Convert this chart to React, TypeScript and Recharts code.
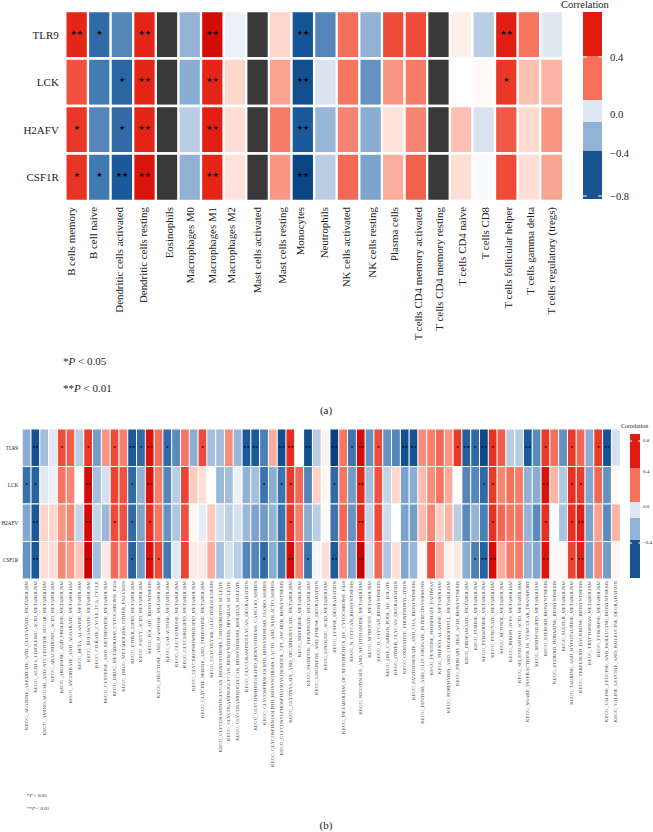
import { Bar, BarChart, Cell, LabelList, XAxis, YAxis } from "recharts";

const GENES = ["TLR9", "LCK", "H2AFV", "CSF1R"];

const IMMUNE_CELLS = [
	"B cells memory",
	"B cell naive",
	"Dendritic cells activated",
	"Dendritic cells resting",
	"Eosinophils",
	"Macrophages M0",
	"Macrophages M1",
	"Macrophages M2",
	"Mast cells activated",
	"Mast cells resting",
	"Monocytes",
	"Neutrophils",
	"NK cells activated",
	"NK cells resting",
	"Plasma cells",
	"T cells CD4 memory activated",
	"T cells CD4 memory resting",
	"T cells CD4 naive",
	"T cells CD8",
	"T cells follicular helper",
	"T cells gamma delta",
	"T cells regulatory (tregs)",
];

const IMMUNE_TLR9 = [0.62, -0.55, -0.42, 0.62, null, -0.27, 0.75, -0.03, null, 0.12, -0.68, -0.42, 0.4, -0.28, 0.5, 0.5, null, 0.06, -0.15, 0.65, 0.38, -0.05];
const IMMUNE_LCK = [0.48, -0.47, -0.58, 0.62, null, -0.3, 0.62, 0.12, null, 0.25, -0.72, -0.07, 0.38, -0.38, 0.28, 0.36, null, 0.0, 0.02, 0.56, 0.17, 0.2];
const IMMUNE_H2AFV = [0.56, -0.42, -0.55, 0.62, null, -0.15, 0.65, 0.1, null, 0.36, -0.65, -0.26, 0.33, -0.3, 0.09, 0.33, null, 0.17, -0.07, 0.46, 0.11, 0.28];
const IMMUNE_CSF1R = [0.57, -0.48, -0.65, 0.7, null, -0.28, 0.62, 0.09, null, 0.28, -0.78, -0.15, 0.42, -0.33, 0.22, 0.44, null, 0.1, -0.01, 0.5, 0.1, 0.24];

// [column (1-based), number of stars]
const IMMUNE_STARS_TLR9 = [[1, 2], [2, 1], [4, 2], [7, 2], [11, 2], [20, 2]];
const IMMUNE_STARS_LCK = [[3, 1], [4, 2], [7, 2], [11, 2], [20, 1]];
const IMMUNE_STARS_H2AFV = [[1, 1], [3, 1], [4, 2], [7, 2], [11, 2]];
const IMMUNE_STARS_CSF1R = [[1, 1], [2, 1], [3, 2], [4, 2], [7, 2], [11, 2]];

const KEGG_PATHWAYS = [
	"ALANINE_ASPARTATE_AND_GLUTAMATE_METABOLISM",
	"ALPHA_LINOLENIC_ACID_METABOLISM",
	"AMINO_SUGAR_AND_NUCLEOTIDE_SUGAR_METABOLISM",
	"ARACHIDONIC_ACID_METABOLISM",
	"ARGININE_AND_PROLINE_METABOLISM",
	"ASCORBATE_AND_ALDARATE_METABOLISM",
	"BETA_ALANINE_METABOLISM",
	"BUTANOATE_METABOLISM",
	"CITRATE_CYCLE_TCA_CYCLE",
	"CYSTEINE_AND_METHIONINE_METABOLISM",
	"DRUG_METABOLISM_CYTOCHROME_P450",
	"DRUG_METABOLISM_OTHER_ENZYMES",
	"ETHER_LIPID_METABOLISM",
	"FATTY_ACID_METABOLISM",
	"FOLATE_BIOSYNTHESIS",
	"FRUCTOSE_AND_MANNOSE_METABOLISM",
	"GALACTOSE_METABOLISM",
	"GLUTATHIONE_METABOLISM",
	"GLYCEROLIPID_METABOLISM",
	"GLYCEROPHOSPHOLIPID_METABOLISM",
	"GLYCINE_SERINE_AND_THREONINE_METABOLISM",
	"GLYCOLYSIS_GLUCONEOGENESIS",
	"GLYCOSAMINOGLYCAN_BIOSYNTHESIS_CHONDROITIN_SULFATE",
	"GLYCOSAMINOGLYCAN_BIOSYNTHESIS_HEPARAN_SULFATE",
	"GLYCOSAMINOGLYCAN_BIOSYNTHESIS_KERATAN_SULFATE",
	"GLYCOSAMINOGLYCAN_DEGRADATION",
	"GLYCOSPHINGOLIPID_BIOSYNTHESIS_GANGLIO_SERIES",
	"GLYCOSPHINGOLIPID_BIOSYNTHESIS_GLOBO_SERIES",
	"GLYCOSPHINGOLIPID_BIOSYNTHESIS_LACTO_AND_NEOLACTO_SERIES",
	"GLYCOSYLPHOSPHATIDYLINOSITOL_GPI_ANCHOR_BIOSYNTHESIS",
	"GLYOXYLATE_AND_DICARBOXYLATE_METABOLISM",
	"HISTIDINE_METABOLISM",
	"INOSITOL_PHOSPHATE_METABOLISM",
	"LIMONENE_AND_PINENE_DEGRADATION",
	"LINOLEIC_ACID_METABOLISM",
	"LYSINE_DEGRADATION",
	"METABOLISM_OF_XENOBIOTICS_BY_CYTOCHROME_P450",
	"N_GLYCAN_BIOSYNTHESIS",
	"NICOTINATE_AND_NICOTINAMIDE_METABOLISM",
	"NITROGEN_METABOLISM",
	"O_GLYCAN_BIOSYNTHESIS",
	"ONE_CARBON_POOL_BY_FOLATE",
	"OTHER_GLYCAN_DEGRADATION",
	"OXIDATIVE_PHOSPHORYLATION",
	"PANTOTHENATE_AND_COA_BIOSYNTHESIS",
	"PENTOSE_AND_GLUCURONATE_INTERCONVERSIONS",
	"PENTOSE_PHOSPHATE_PATHWAY",
	"PHENYLALANINE_METABOLISM",
	"PORPHYRIN_AND_CHLOROPHYLL_METABOLISM",
	"PRIMARY_BILE_ACID_BIOSYNTHESIS",
	"PROPANOATE_METABOLISM",
	"PURINE_METABOLISM",
	"PYRIMIDINE_METABOLISM",
	"PYRUVATE_METABOLISM",
	"RETINOL_METABOLISM",
	"RIBOFLAVIN_METABOLISM",
	"SELENOAMINO_ACID_METABOLISM",
	"SNARE_INTERACTIONS_IN_VESICULAR_TRANSPORT",
	"SPHINGOLIPID_METABOLISM",
	"STEROID_BIOSYNTHESIS",
	"STEROID_HORMONE_BIOSYNTHESIS",
	"SULFUR_METABOLISM",
	"TAURINE_AND_HYPOTAURINE_METABOLISM",
	"TERPENOID_BACKBONE_BIOSYNTHESIS",
	"TRYPTOPHAN_METABOLISM",
	"TYROSINE_METABOLISM",
	"VALINE_LEUCINE_AND_ISOLEUCINE_BIOSYNTHESIS",
	"VALINE_LEUCINE_AND_ISOLEUCINE_DEGRADATION",
].map((name) => `KEGG_${name}`);

const KEGG_TLR9 = [
	-0.3, -0.7, -0.22, -0.05, 0.5, 0.45, -0.15, 0.55, -0.35, 0.28, 0.5, 0.35, -0.65, -0.55, 0.7, 0.4, -0.55,
	-0.4, 0.38, -0.3, 0.5, -0.22, -0.22, 0.3, -0.25, -0.65, -0.65, -0.45, 0.22, -0.72, 0.6, null, -0.72, -0.15,
	0.05, -0.8, 0.38, -0.5, 0.75, -0.38, 0.5, -0.38, -0.42, -0.72, -0.68, 0.3, 0.35, 0.42, 0.28, 0.55, -0.62,
	-0.55, -0.75, 0.58, 0.45, -0.15, -0.15, -0.65, -0.4, 0.55, 0.4, -0.38, 0.55, 0.42, -0.3, 0.55, -0.68, -0.08,
];
const KEGG_LCK = [
	-0.52, -0.6, -0.05, -0.03, 0.38, 0.32, 0.0, 0.75, -0.22, -0.08, 0.52, 0.48, -0.55, -0.28, 0.7, 0.35, -0.42,
	-0.15, 0.52, 0.15, 0.1, 0.01, -0.25, -0.22, -0.03, -0.28, -0.22, -0.5, -0.3, -0.5, 0.55, 0.42, -0.42, 0.13,
	0.03, -0.55, 0.38, -0.35, 0.6, -0.22, 0.48, -0.12, 0.12, -0.33, -0.3, 0.18, 0.3, 0.38, 0.22, 0.0, -0.42,
	-0.42, -0.55, 0.55, 0.32, 0.4, 0.36, -0.28, -0.3, 0.7, 0.2, -0.18, 0.58, 0.55, -0.32, 0.42, -0.38, 0.03,
];
const KEGG_H2AFV = [
	-0.32, -0.65, 0.12, 0.12, 0.28, 0.32, -0.12, 0.75, -0.12, -0.25, 0.5, 0.48, -0.55, -0.33, 0.58, 0.38, -0.38,
	-0.18, 0.48, 0.03, -0.04, 0.15, -0.08, -0.14, -0.08, -0.25, -0.33, -0.35, -0.27, -0.5, 0.55, 0.35, -0.3, -0.15,
	0.02, -0.5, 0.42, -0.38, 0.6, -0.12, 0.5, -0.1, 0.0, -0.33, -0.35, 0.18, 0.32, 0.13, 0.2, -0.15, -0.4,
	-0.27, -0.45, 0.58, 0.42, 0.38, 0.38, -0.27, -0.4, 0.58, 0.0, -0.2, 0.58, 0.65, -0.33, 0.25, -0.4, 0.2,
];
const KEGG_CSF1R = [
	-0.38, -0.65, 0.1, 0.1, 0.32, 0.27, 0.16, 0.78, -0.22, 0.07, 0.42, 0.35, -0.6, -0.35, 0.72, 0.5, -0.48,
	-0.05, 0.52, 0.07, 0.07, 0.22, -0.2, -0.08, -0.15, -0.42, -0.42, -0.55, -0.3, -0.48, 0.75, 0.35, -0.5, -0.02,
	0.1, -0.65, 0.33, -0.33, 0.8, -0.08, 0.42, -0.18, 0.1, -0.32, -0.25, 0.03, 0.5, 0.22, 0.05, 0.08, -0.3,
	-0.45, -0.6, 0.75, 0.22, 0.35, 0.36, -0.27, -0.32, 0.7, 0.03, 0.04, 0.52, 0.65, -0.33, 0.3, -0.35, 0.04,
];

const KEGG_STARS_TLR9 = [[2, 2], [5, 1], [8, 1], [11, 1], [13, 2], [14, 1], [15, 2], [17, 1], [21, 1], [26, 2], [27, 2], [30, 2], [31, 2], [33, 2], [36, 2], [38, 1], [39, 2], [41, 1], [44, 2], [45, 2], [50, 1], [51, 2], [52, 1], [53, 2], [54, 1], [58, 2], [60, 1], [63, 1], [66, 1], [67, 2]];
const KEGG_STARS_LCK = [[1, 1], [2, 1], [8, 2], [13, 1], [15, 2], [28, 1], [30, 1], [31, 1], [36, 1], [39, 2], [53, 1], [54, 1], [60, 2], [63, 1], [64, 1]];
const KEGG_STARS_H2AFV = [[2, 2], [8, 2], [11, 1], [13, 1], [15, 1], [31, 1], [39, 2], [54, 1], [60, 1], [63, 1], [64, 2]];
const KEGG_STARS_CSF1R = [[2, 2], [8, 2], [13, 1], [15, 2], [16, 1], [28, 1], [31, 2], [33, 1], [36, 2], [39, 2], [52, 1], [53, 2], [54, 2], [60, 2], [63, 1], [64, 2]];

// colour bars, bottom to top, in legend units
const LEGEND_COLORS = ["#17548f", "#92b3d6", "#dfe8f2", "#f7705c", "#e21b10"];
const LEGEND_A_SPANS = [48, 29, 22, 44, 44];
const LEGEND_A_TICKS = [3, 46, 85, 142];
const LEGEND_A_LABELS = ["−0.8", "−0.4", "0.0", "0.4"];
const LEGEND_A_NOTCHES = [3, 142];
const LEGEND_B_SPANS = [38, 22, 16, 34, 34];
const LEGEND_B_TICKS = [35, 71, 106, 137];
const LEGEND_B_LABELS = ["−0.4", "0.0", "0.4", "0.8"];
const LEGEND_B_NOTCHES = [35, 137];

// the labels of panel (a) were placed by hand in the figure, not on the cell centres
const IMMUNE_LABEL_SHIFT = [-5.9, -6.5, -3.1, -1.7, 1.7, 0.4, -0.5, -4.1, -0.1, 1.7, -2.6, -1.9, -1.8, 1.3, 0.3, 1.7, 0.1, 0.9, 1.6, 1.7, 1.4, -0.5];

const SERIF = "'Liberation Serif', serif";
const TEXT = "#222222";

const COLOR_STOPS: [number, number[]][] = [
	[-0.8, [8, 66, 130]],
	[-0.65, [26, 90, 154]],
	[-0.5, [59, 116, 174]],
	[-0.4, [91, 139, 189]],
	[-0.3, [140, 173, 210]],
	[-0.15, [185, 205, 229]],
	[-0.05, [224, 232, 242]],
	[0, [255, 255, 255]],
	[0.05, [255, 243, 239]],
	[0.1, [255, 222, 214]],
	[0.2, [252, 180, 165]],
	[0.3, [248, 141, 123]],
	[0.4, [245, 112, 92]],
	[0.5, [238, 75, 57]],
	[0.6, [230, 42, 28]],
	[0.7, [220, 21, 12]],
	[0.8, [204, 0, 0]],
];

function correlationColor(value: number | null, missing: string) {
	if (value === null) return missing;
	for (let i = 1; i < COLOR_STOPS.length; i++) {
		const [v0, c0] = COLOR_STOPS[i - 1];
		const [v1, c1] = COLOR_STOPS[i];
		if (value <= v1) {
			const t = Math.max(0, (value - v0) / (v1 - v0));
			const mix = c0.map((c, k) => Math.round(c + (c1[k] - c) * t));
			return `rgb(${mix.join(",")})`;
		}
	}
	return "rgb(204,0,0)";
}

function ColumnTick({ x, y, payload, index, fontSize, fill, shifts }: any) {
	const shift = shifts ? shifts[index] : 0;
	return (
		<text
			transform={`translate(${x + shift},${y}) rotate(-90)`}
			textAnchor="end"
			dominantBaseline="central"
			fontSize={fontSize}
			fontFamily={SERIF}
			fill={fill}
		>
			{payload.value}
		</text>
	);
}

interface HeatmapProps {
	columns: string[];
	values: (number | null)[][];
	stars: number[][][];
	top: number;
	left: number;
	plotWidth: number;
	plotHeight: number;
	axisHeight: number;
	gap: number;
	missing: string;
	rowFont: number;
	rowGap: number;
	columnFont: number;
	columnFill: string;
	columnShift?: number[];
	starFont: number;
	tickGap: number;
}

function Heatmap(props: HeatmapProps) {
	const { columns, values, stars, top, left, plotWidth, plotHeight, axisHeight, gap, missing, rowFont, rowGap, columnFont, columnFill, columnShift, starFont, tickGap } = props;
	const data = columns.map((name, c) => {
		const row: Record<string, string | number> = { name };
		GENES.forEach((gene, r) => {
			const hit = stars[r].find(([col]) => col === c + 1);
			row[gene] = 1;
			row[`${gene}_stars`] = hit ? "★".repeat(hit[1]) : "";
		});
		return row;
	});

	return (
		<div style={{ position: "absolute", left: 0, top: top }}>
			<BarChart
				width={left + plotWidth + 10}
				height={plotHeight + axisHeight}
				data={data}
				margin={{ top: 0, right: 10, bottom: 0, left: 0 }}
				barCategoryGap={0}
			>
				<XAxis
					dataKey="name"
					interval={0}
					height={axisHeight}
					axisLine={false}
					tickLine={false}
					tickSize={0}
					tickMargin={tickGap}
					tick={<ColumnTick fontSize={columnFont} fill={columnFill} shifts={columnShift} />}
				/>
				<YAxis
					type="number"
					width={left}
					domain={[0, GENES.length]}
					reversed
					ticks={GENES.map((_, r) => r + 0.5)}
					interval={0}
					tickFormatter={(v: number) => GENES[Math.floor(v)]}
					axisLine={false}
					tickLine={false}
					tickSize={0}
					tickMargin={rowGap}
					tick={{ fontSize: rowFont, fontFamily: SERIF, fill: TEXT }}
				/>
				{GENES.map((gene, r) => (
					<Bar
						key={gene}
						dataKey={gene}
						stackId="cells"
						stroke="#ffffff"
						strokeWidth={gap}
						isAnimationActive={false}
					>
						{columns.map((name, c) => (
							<Cell key={name} fill={correlationColor(values[r][c], missing)} />
						))}
						<LabelList
							dataKey={`${gene}_stars`}
							position="center"
							dy={-starFont * 0.35}
							fill="#000000"
							fontSize={starFont}
							fontFamily="'DejaVu Sans'"
						/>
					</Bar>
				))}
			</BarChart>
		</div>
	);
}

function LegendTick({ x, y, payload, labels, ticks, notches, fontSize, barWidth, labelGap }: any) {
	const label = labels[ticks.indexOf(payload.value)];
	const notched = notches.includes(payload.value);
	return (
		<g>
			{notched && <line x1={x - barWidth} x2={x - barWidth + barWidth * 0.2} y1={y} y2={y} stroke="#ffffff" />}
			{notched && <line x1={x - barWidth * 0.2} x2={x} y1={y} y2={y} stroke="#ffffff" />}
			<text x={x + labelGap} y={y} dominantBaseline="central" fontSize={fontSize} fontFamily={SERIF} fill={TEXT}>
				{label}
			</text>
		</g>
	);
}

function ColorBar({ left, top, width, spans, ticks, labels, notches, fontSize, labelGap }: any) {
	const total = spans.reduce((a: number, b: number) => a + b, 0);
	const row: Record<string, string | number> = { name: "legend" };
	spans.forEach((s: number, i: number) => (row[`band${i}`] = s));
	const labelRoom = 40;
	const pad = 10;
	return (
		<div style={{ position: "absolute", left, top: top - pad }}>
			<BarChart
				width={width + labelRoom}
				height={total + pad * 2}
				data={[row]}
				margin={{ top: pad, right: 0, bottom: pad, left: 0 }}
				barCategoryGap={0}
			>
				<XAxis dataKey="name" hide />
				<YAxis
					type="number"
					orientation="right"
					width={labelRoom}
					domain={[0, total]}
					ticks={ticks}
					interval={0}
					axisLine={false}
					tickLine={false}
					tickSize={0}
					tickMargin={0}
					tick={<LegendTick labels={labels} ticks={ticks} notches={notches} fontSize={fontSize} barWidth={width} labelGap={labelGap} />}
				/>
				{spans.map((_: number, i: number) => (
					<Bar key={i} dataKey={`band${i}`} stackId="legend" fill={LEGEND_COLORS[i]} isAnimationActive={false} />
				))}
			</BarChart>
		</div>
	);
}

function Note({ x, y, size, center, children }: any) {
	return (
		<div
			style={{
				position: "absolute",
				left: x,
				top: y - size,
				height: size * 2,
				lineHeight: `${size * 2}px`,
				fontSize: size,
				fontFamily: SERIF,
				color: TEXT,
				whiteSpace: "nowrap",
				transform: center ? "translateX(-50%)" : undefined,
			}}
		>
			{children}
		</div>
	);
}

export default function App() {
	return (
		<div style={{ position: "absolute", left: 0, top: 0, width: 653, height: 832, overflow: "hidden", background: "#ffffff" }}>
			<Heatmap
				columns={IMMUNE_CELLS}
				values={[IMMUNE_TLR9, IMMUNE_LCK, IMMUNE_H2AFV, IMMUNE_CSF1R]}
				stars={[IMMUNE_STARS_TLR9, IMMUNE_STARS_LCK, IMMUNE_STARS_H2AFV, IMMUNE_STARS_CSF1R]}
				top={10.85}
				left={65.35}
				plotWidth={497.5}
				plotHeight={190}
				axisHeight={150}
				gap={2.3}
				missing="#393939"
				rowFont={11}
				rowGap={6.5}
				columnFont={10.9}
				columnFill={TEXT}
				columnShift={IMMUNE_LABEL_SHIFT}
				starFont={7}
				tickGap={6}
			/>
			<Note x={561} y={4} size={10.5}>Correlation</Note>
			<ColorBar left={583} top={12} width={19} spans={LEGEND_A_SPANS} ticks={LEGEND_A_TICKS} labels={LEGEND_A_LABELS} notches={LEGEND_A_NOTCHES} fontSize={10.5} labelGap={8} />
			<Note x={63} y={361} size={11}>*<i>P</i> &lt; 0.05</Note>
			<Note x={63} y={388} size={11}>**<i>P</i> &lt; 0.01</Note>
			<Note x={326} y={410} size={11} center>(a)</Note>

			<Heatmap
				columns={KEGG_PATHWAYS}
				values={[KEGG_TLR9, KEGG_LCK, KEGG_H2AFV, KEGG_CSF1R]}
				stars={[KEGG_STARS_TLR9, KEGG_STARS_LCK, KEGG_STARS_H2AFV, KEGG_STARS_CSF1R]}
				top={428.5}
				left={22.2}
				plotWidth={598}
				plotHeight={150}
				axisHeight={200}
				gap={1}
				missing="#ffffff"
				rowFont={5.2}
				rowGap={4}
				columnFont={5}
				columnFill="#444444"
				starFont={3.6}
				tickGap={2}
			/>
			<Note x={621} y={426} size={6}>Correlation</Note>
			<ColorBar left={630.3} top={434} width={10.4} spans={LEGEND_B_SPANS} ticks={LEGEND_B_TICKS} labels={LEGEND_B_LABELS} notches={LEGEND_B_NOTCHES} fontSize={5} labelGap={2.5} />
			<Note x={27} y={796} size={5}>*<i>P</i> &lt; 0.05</Note>
			<Note x={27} y={809} size={5}>**<i>P</i> &lt; 0.01</Note>
			<Note x={326} y={825} size={11} center>(b)</Note>
		</div>
	);
}
